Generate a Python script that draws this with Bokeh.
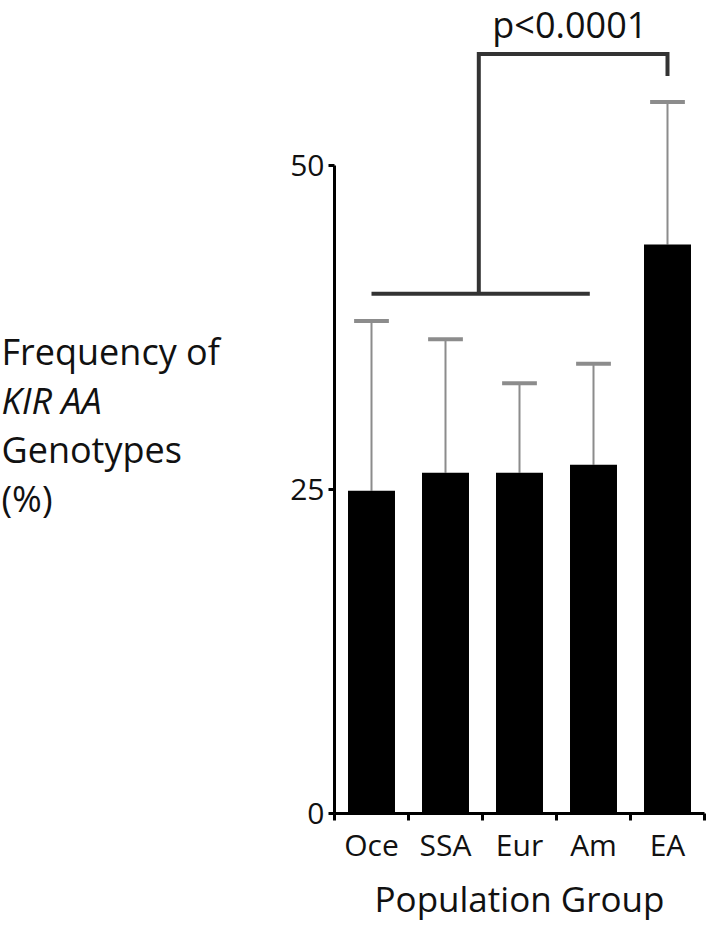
from bokeh.plotting import figure
from bokeh.layouts import row
from bokeh.models import Range1d, FixedTicker, Label, ColumnDataSource
from bokeh.embed import file_html
from bokeh.resources import INLINE

# ---- data ----
categories = ["Oce", "SSA", "Eur", "Am", "EA"]
frequency = [24.9, 26.3, 26.3, 26.9, 43.9]      # mean %
error_upper = [13.1, 10.3, 6.9, 7.8, 11.0]      # upper error (SD)
y_ticks = [0, 25, 50]
y_label_lines = ["Frequency of", "KIR AA", "Genotypes", "(%)"]
p_value_text = "p<0.0001"

# significance bracket (data units)
group_from, group_to = 0, 2.95
group_line_y = 40.1
bracket_mid_x = 1.45
bracket_top_y = 58.6
target_x = 4
target_drop_y = 56.9

FONT = "Open Sans"
TXT = "#111111"
H = 928
LEFT_W = 280
MAIN_W = 429
Y_END = 62.73

x = list(range(len(categories)))
upper = [f + e for f, e in zip(frequency, error_upper)]
src = ColumnDataSource(dict(x=x, top=frequency, upper=upper,
                            cap_l=[v - 0.235 for v in x], cap_r=[v + 0.235 for v in x]))

# ---- main chart ----
p = figure(width=MAIN_W, height=H, output_backend="svg", toolbar_location=None, title=None,
           x_range=Range1d(-0.5, 4.5), y_range=Range1d(0, Y_END),
           min_border_left=334 - LEFT_W, min_border_right=MAIN_W - (334 - LEFT_W) - 370,
           min_border_top=0, min_border_bottom=115)
p.outline_line_color = None
p.xgrid.visible = False
p.ygrid.visible = False
p.background_fill_color = "white"

# ---- left panel with the multi-line y label (shares the vertical scale) ----
lp = figure(width=LEFT_W, height=H, output_backend="svg", toolbar_location=None, title=None,
            x_range=Range1d(0, LEFT_W), y_range=p.y_range,
            x_axis_location=None, y_axis_location=None,
            min_border_left=0, min_border_right=0, min_border_top=0, min_border_bottom=115)
lp.outline_line_color = None
lp.xgrid.visible = False
lp.ygrid.visible = False
label_y = [35.65, 31.87, 28.09, 24.31]
for i, line in enumerate(y_label_lines):
    lp.add_layout(Label(x=1, y=label_y[i], text=line, text_align="left",
                        text_baseline="alphabetic", text_font=FONT, text_font_size="36px",
                        text_font_style="italic" if i == 1 else "normal", text_color=TXT))

# error bars
p.segment(x0="x", y0="top", x1="x", y1="upper", source=src, line_color="#8c8c8c", line_width=2)
p.segment(x0="cap_l", y0="upper", x1="cap_r", y1="upper", source=src, line_color="#8c8c8c", line_width=4)
# bars
p.vbar(x="x", top="top", width=0.635, bottom=0, source=src, fill_color="black", line_color=None)

# bracket
br = "#333333"
p.line([group_from, group_to], [group_line_y, group_line_y], line_color=br, line_width=4)
p.line([bracket_mid_x, bracket_mid_x, target_x, target_x],
       [group_line_y, bracket_top_y, bracket_top_y, target_drop_y], line_color=br, line_width=4,
       line_join="miter")
p.add_layout(Label(x=2.68, y=60.9, text=p_value_text, text_align="center", text_baseline="alphabetic",
                   text_font=FONT, text_font_size="36px", text_color=TXT))

# y axis
ya = p.yaxis[0]
ya.ticker = FixedTicker(ticks=y_ticks)
ya.bounds = (0, 50)
ya.axis_line_width = 3
ya.axis_line_color = "black"
ya.major_tick_in = 0
ya.major_tick_out = 6
ya.major_tick_line_width = 3
ya.minor_tick_out = 0
ya.minor_tick_in = 0
ya.major_label_text_font = FONT
ya.major_label_text_font_size = "30px"
ya.major_label_text_color = TXT
ya.major_label_standoff = 4

# x axis
xa = p.xaxis[0]
xa.ticker = FixedTicker(ticks=x, minor_ticks=[-0.5, 0.5, 1.5, 2.5, 3.5, 4.5])
xa.bounds = (-0.5, 4.5)
xa.major_label_overrides = {i: c for i, c in zip(x, categories)}
xa.axis_line_width = 3
xa.axis_line_color = "black"
xa.major_tick_in = 0
xa.major_tick_out = 0
xa.minor_tick_in = 0
xa.minor_tick_out = 7
xa.minor_tick_line_width = 3
xa.minor_tick_line_color = "black"
xa.major_label_text_font = FONT
xa.major_label_text_font_size = "30px"
xa.major_label_text_color = TXT
xa.major_label_standoff = 3
xa.axis_label = "Population Group"
xa.axis_label_text_font = FONT
xa.axis_label_text_font_size = "35px"
xa.axis_label_text_font_style = "normal"
xa.axis_label_text_color = TXT
xa.axis_label_standoff = 7

layout = row(lp, p)
open("out.html", "w").write(file_html(layout, INLINE))
